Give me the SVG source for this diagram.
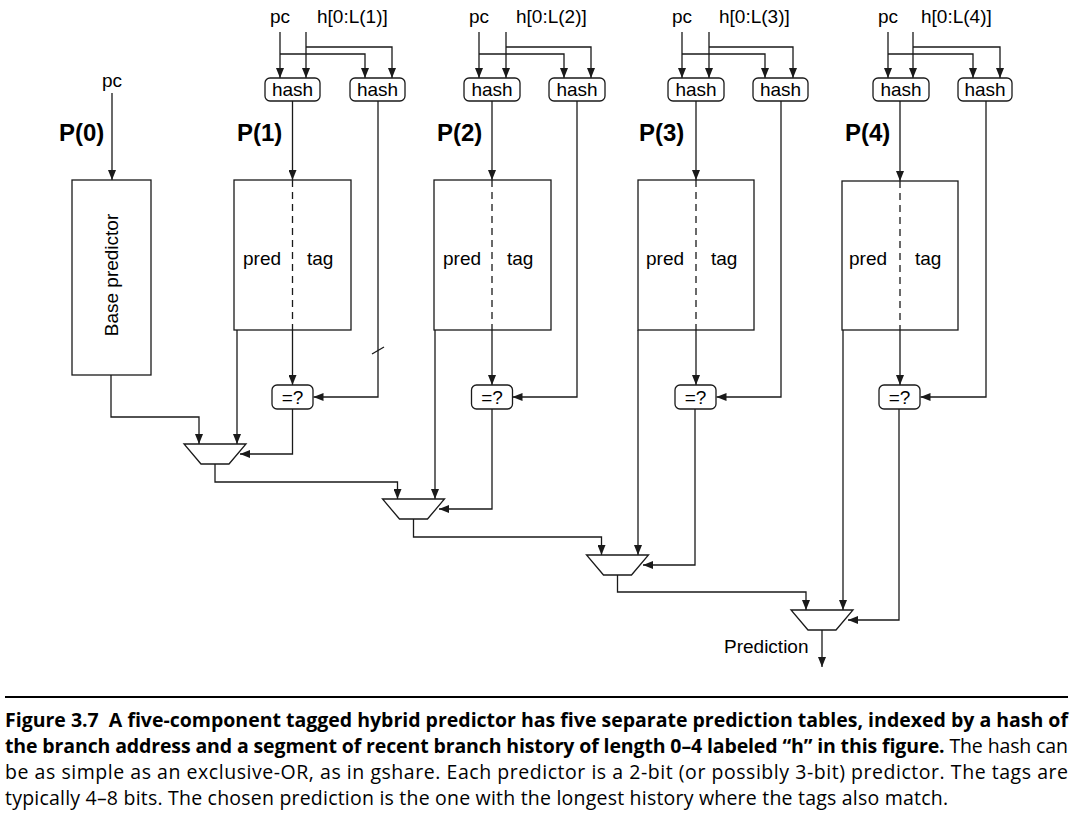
<svg xmlns="http://www.w3.org/2000/svg" width="1083" height="826" viewBox="0 0 1083 826">
<defs>
<marker id="ah" markerWidth="10" markerHeight="8" refX="10" refY="4" orient="auto" markerUnits="userSpaceOnUse">
<path d="M0,0 L10,4 L0,8 Z" fill="#1a1a1a"/>
</marker>
<style>
.ln{fill:none;stroke:#1a1a1a;stroke-width:1.3}
.ar{fill:none;stroke:#1a1a1a;stroke-width:1.3;marker-end:url(#ah)}
.bx{fill:#fff;stroke:#1a1a1a;stroke-width:1.3}
.dash{fill:none;stroke:#1a1a1a;stroke-width:1.3;stroke-dasharray:7,5}
.t{font-family:"Liberation Sans",Arial,sans-serif;font-size:19px;fill:#000}
.tm{font-family:"Liberation Sans",Arial,sans-serif;font-size:19px;fill:#000;text-anchor:middle}
.pl{font-family:"Liberation Sans",Arial,sans-serif;font-size:24px;font-weight:bold;fill:#000}
.cap{font-family:"Open Sans","Noto Sans",sans-serif;font-size:19.5px;fill:#000}
.b{font-weight:bold}
</style>
</defs>
<rect width="1083" height="826" fill="#fff"/>

<!-- connectors -->
<g id="connectors">
<!-- P0 -->
<path class="ar" d="M112,93 V180"/>
<path class="ar" d="M111,375 V417 H199 V444"/>
<!-- G1 top -->
<path class="ar" d="M280,32 V78"/>
<path class="ar" d="M306,32 V78"/>
<path class="ar" d="M280,54 H365 V78"/>
<path class="ar" d="M306,47 H392 V78"/>
<!-- G2 top -->
<path class="ar" d="M479,32 V78"/>
<path class="ar" d="M506,32 V78"/>
<path class="ar" d="M479,54 H564 V78"/>
<path class="ar" d="M506,47 H591 V78"/>
<!-- G3 top -->
<path class="ar" d="M682,32 V78"/>
<path class="ar" d="M709,32 V78"/>
<path class="ar" d="M682,54 H765 V78"/>
<path class="ar" d="M709,47 H793 V78"/>
<!-- G4 top -->
<path class="ar" d="M888,32 V78"/>
<path class="ar" d="M913,32 V78"/>
<path class="ar" d="M888,54 H973 V78"/>
<path class="ar" d="M913,47 H1000 V78"/>
<!-- hash1 -> tables -->
<path class="ar" d="M292.5,101 V180"/>
<path class="ar" d="M492,101 V180"/>
<path class="ar" d="M696,101 V180"/>
<path class="ar" d="M900,101 V181"/>
<!-- dashed splits -->
<path class="dash" d="M292.5,180 V330"/>
<path class="dash" d="M492,180 V330"/>
<path class="dash" d="M696,180 V330"/>
<path class="dash" d="M900,181 V330"/>
<!-- tag -> =? -->
<path class="ar" d="M292.5,330 V385"/>
<path class="ar" d="M492,330 V385"/>
<path class="ar" d="M696,330 V385"/>
<path class="ar" d="M900,330 V385"/>
<!-- hash2 -> =? -->
<path class="ar" d="M378,101 V397 H313.5"/>
<path class="ln" d="M372,354 L384,347"/>
<path class="ar" d="M577,101 V397 H512.5"/>
<path class="ar" d="M781,101 V397 H716.5"/>
<path class="ar" d="M986,101 V397 H920.5"/>
<!-- pred -> mux -->
<path class="ar" d="M237,330 V444"/>
<path class="ar" d="M435,330 V499"/>
<path class="ar" d="M638,330 V555"/>
<path class="ar" d="M843,330 V610"/>
<!-- =? -> mux -->
<path class="ar" d="M292.5,409 V454 H240"/>
<path class="ar" d="M492,409 V509 H439"/>
<path class="ar" d="M695,409 V565 H643"/>
<path class="ar" d="M899,409 V620 H848"/>
<!-- mux chain -->
<path class="ar" d="M215,464 V482 H397.5 V499"/>
<path class="ar" d="M413.5,519 V537 H601.5 V555"/>
<path class="ar" d="M617.5,575 V592 H806 V610"/>
<path class="ar" d="M822,630 V667"/>
</g>

<!-- P(0) base predictor -->
<g id="p0">
<text class="tm" x="112" y="87">pc</text>
<text class="pl" x="59" y="141">P(0)</text>
<rect class="bx" x="72" y="180" width="79" height="195"/>
<text class="tm" transform="translate(118,275) rotate(-90)">Base predictor</text>
</g>

<!-- P(1) -->
<g id="p1">
<text class="tm" x="280" y="23">pc</text>
<text class="t" x="317" y="23">h[0:L(1)]</text>
<rect class="bx" x="265" y="78" width="55" height="23" rx="5"/>
<text class="tm" x="292.5" y="96">hash</text>
<rect class="bx" x="350" y="78" width="55" height="23" rx="5"/>
<text class="tm" x="377.5" y="96">hash</text>
<text class="pl" x="237" y="141">P(1)</text>
<rect class="bx" x="234" y="180" width="117" height="150" style="fill:none"/>
<text class="t" x="243" y="265">pred</text>
<text class="t" x="307" y="265">tag</text>
<rect class="bx" x="272" y="385" width="41" height="24" rx="5"/>
<text class="tm" x="292.5" y="404">=?</text>
</g>

<!-- P(2) -->
<g id="p2">
<text class="tm" x="479" y="23">pc</text>
<text class="t" x="516" y="23">h[0:L(2)]</text>
<rect class="bx" x="464" y="78" width="56" height="23" rx="5"/>
<text class="tm" x="492" y="96">hash</text>
<rect class="bx" x="549" y="78" width="56" height="23" rx="5"/>
<text class="tm" x="577" y="96">hash</text>
<text class="pl" x="437" y="141">P(2)</text>
<rect class="bx" x="434" y="180" width="117" height="150" style="fill:none"/>
<text class="t" x="443" y="265">pred</text>
<text class="t" x="507" y="265">tag</text>
<rect class="bx" x="471.5" y="385" width="41" height="24" rx="5"/>
<text class="tm" x="492" y="404">=?</text>
</g>

<!-- P(3) -->
<g id="p3">
<text class="tm" x="682" y="23">pc</text>
<text class="t" x="719" y="23">h[0:L(3)]</text>
<rect class="bx" x="668" y="78" width="56" height="23" rx="5"/>
<text class="tm" x="696" y="96">hash</text>
<rect class="bx" x="753" y="78" width="55" height="23" rx="5"/>
<text class="tm" x="780.5" y="96">hash</text>
<text class="pl" x="639" y="141">P(3)</text>
<rect class="bx" x="638" y="180" width="116" height="150" style="fill:none"/>
<text class="t" x="646" y="265">pred</text>
<text class="t" x="711" y="265">tag</text>
<rect class="bx" x="675" y="385" width="41" height="24" rx="5"/>
<text class="tm" x="695.5" y="404">=?</text>
</g>

<!-- P(4) -->
<g id="p4">
<text class="tm" x="888" y="23">pc</text>
<text class="t" x="921" y="23">h[0:L(4)]</text>
<rect class="bx" x="873" y="78" width="56" height="23" rx="5"/>
<text class="tm" x="901" y="96">hash</text>
<rect class="bx" x="958" y="78" width="54" height="23" rx="5"/>
<text class="tm" x="985" y="96">hash</text>
<text class="pl" x="845" y="141">P(4)</text>
<rect class="bx" x="842" y="181" width="116" height="149" style="fill:none"/>
<text class="t" x="849" y="265">pred</text>
<text class="t" x="915" y="265">tag</text>
<rect class="bx" x="879" y="385" width="41" height="24" rx="5"/>
<text class="tm" x="899.5" y="404">=?</text>
</g>

<!-- muxes -->
<g id="mux1"><path class="bx" d="M184,444 H246 L229,464 H201 Z"/></g>
<g id="mux2"><path class="bx" d="M382.5,499 H444.5 L427.5,519 H399.5 Z"/></g>
<g id="mux3"><path class="bx" d="M586.5,555 H648.5 L631.5,575 H603.5 Z"/></g>
<g id="mux4"><path class="bx" d="M791,610 H853 L836,630 H808 Z"/></g>

<g id="prediction"><text class="t" x="724" y="653">Prediction</text></g>

<!-- caption -->
<g id="caption">
<line x1="5" y1="697" x2="1068" y2="697" stroke="#000" stroke-width="2"/>
<text class="cap b" x="5" y="727" textLength="1063" lengthAdjust="spacing">Figure 3.7&#160; A five-component tagged hybrid predictor has five separate prediction tables, indexed by a hash of</text>
<text class="cap" x="5" y="753" textLength="1063" lengthAdjust="spacing"><tspan class="b">the branch address and a segment of recent branch history of length 0–4 labeled “h” in this figure.</tspan> The hash can</text>
<text class="cap" x="5" y="779" textLength="1063" lengthAdjust="spacing">be as simple as an exclusive-OR, as in gshare. Each predictor is a 2-bit (or possibly 3-bit) predictor. The tags are</text>
<text class="cap" x="5" y="805" textLength="943" lengthAdjust="spacing">typically 4–8 bits. The chosen prediction is the one with the longest history where the tags also match.</text>
</g>
</svg>
